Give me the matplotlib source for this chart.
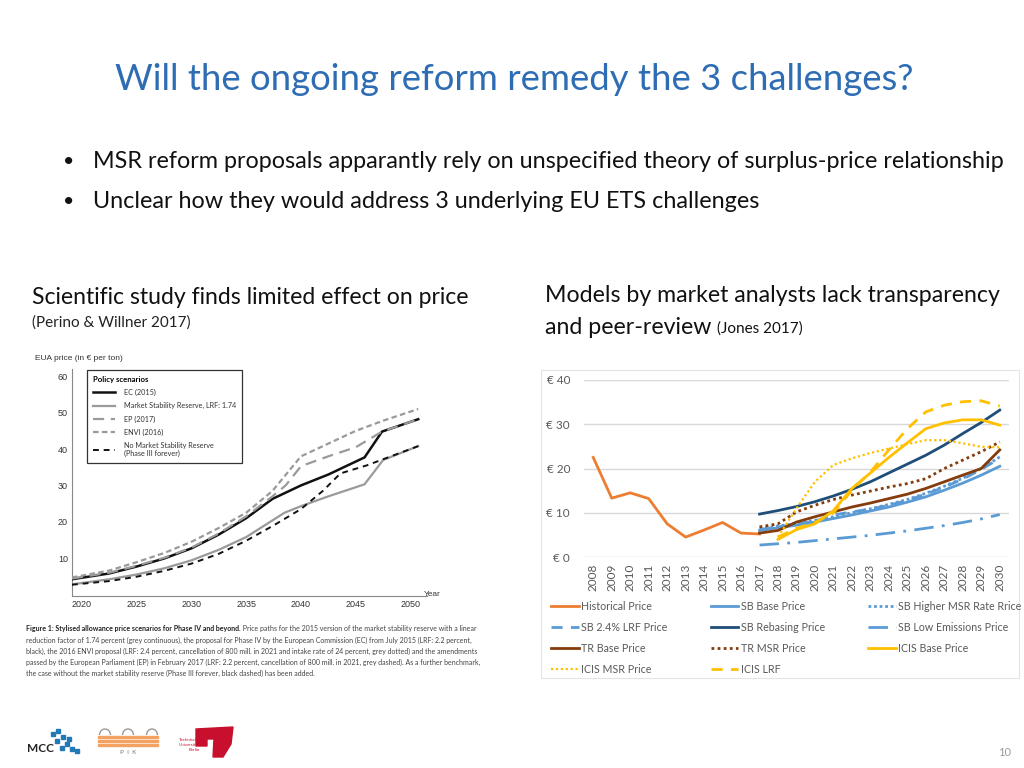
import numpy as np
import matplotlib.pyplot as plt
from matplotlib.patches import Rectangle, Polygon, Arc

plt.rcParams['font.family'] = ['Lato', 'DejaVu Sans']

W, H = 1024, 768

# ---- left chart (Perino & Willner 2017), EUA price in EUR per ton ----
ec_years = [2019.1, 2022.5, 2025, 2027.5, 2030, 2032.5, 2035, 2037.4, 2040, 2042.5, 2045.8, 2047.4, 2050.7]
ec_price = [4.2, 5.8, 7.7, 9.9, 12.7, 16.5, 21.0, 26.3, 30.0, 33.0, 37.7, 44.8, 48.2]

lrf_years = [2019.1, 2022.5, 2025, 2027.5, 2030, 2032.5, 2035, 2038.5, 2040, 2042.5, 2045.8, 2047.5, 2050.7]
lrf_price = [2.8, 4.2, 5.5, 7.2, 9.4, 12.3, 15.8, 22.5, 24.3, 27.0, 30.3, 37.0, 40.8]

ep_years = [2019.1, 2022.5, 2025, 2027.5, 2030, 2032.5, 2035, 2037.4, 2038.6, 2040, 2042.5, 2045, 2047.4, 2050.7]
ep_price = [4.4, 6.0, 7.9, 10.1, 12.9, 16.8, 21.5, 27.0, 30.0, 35.3, 38.0, 40.5, 44.8, 48.2]

envi_years = [2019.1, 2022.5, 2025, 2027.5, 2030, 2032.5, 2035, 2037.4, 2040, 2042.5, 2045, 2047.5, 2050.7]
envi_price = [4.7, 6.6, 8.9, 11.4, 14.5, 18.3, 22.5, 28.5, 38.0, 41.5, 45.0, 47.8, 51.0]

nomsr_years = [2019.1, 2022.5, 2025, 2027.5, 2030, 2032.5, 2035, 2037.5, 2040, 2042, 2043.6, 2046, 2047.5, 2050.7]
nomsr_price = [2.7, 3.7, 4.9, 6.5, 8.5, 11.2, 14.8, 19.0, 23.5, 28.5, 33.3, 35.5, 37.2, 40.8]

# ---- right chart (Jones 2017), price forecasts ----
hist_years = list(range(2008, 2018))
hist_price = [22.5, 13.3, 14.5, 13.2, 7.5, 4.5, 6.1, 7.8, 5.4, 5.2]

sb_years = list(range(2017, 2031))
sb_base = [6.0, 6.6, 7.2, 7.9, 8.7, 9.5, 10.4, 11.3, 12.4, 13.6, 15.1, 16.7, 18.5, 20.5]
sb_higher_msr = [6.5, 7.0, 7.6, 8.3, 9.1, 10.0, 10.9, 11.9, 13.0, 14.4, 16.0, 17.8, 20.0, 22.6]
sb_lrf24 = [6.2, 6.8, 7.4, 8.1, 9.5, 10.2, 10.8, 11.7, 12.8, 14.2, 15.8, 17.6, 19.8, 22.3]
sb_rebasing = [9.7, 10.5, 11.4, 12.5, 13.8, 15.3, 17.0, 19.0, 21.0, 23.0, 25.3, 27.9, 30.4, 33.2]
sb_low_em = [2.7, 3.0, 3.3, 3.7, 4.1, 4.5, 4.9, 5.4, 5.9, 6.5, 7.1, 7.8, 8.6, 9.6]
tr_base = [5.4, 6.0, 7.9, 9.1, 10.2, 11.3, 12.2, 13.2, 14.2, 15.5, 17.0, 18.5, 20.0, 24.2]
tr_msr = [6.8, 7.5, 10.2, 11.7, 13.0, 14.0, 14.9, 15.8, 16.6, 17.7, 20.0, 21.9, 23.8, 26.0]

icis_years = list(range(2018, 2031))
icis_base = [4.0, 6.2, 7.5, 10.5, 15.5, 19.0, 22.5, 25.8, 29.0, 30.3, 31.0, 31.0, 29.8]
icis_msr = [4.5, 11.0, 17.0, 20.8, 22.3, 23.5, 24.5, 25.5, 26.4, 26.4, 25.7, 24.9, 24.8]
icis_lrf = [4.5, 6.5, 7.8, 10.0, 15.1, 19.2, 24.2, 29.0, 32.8, 34.3, 35.1, 35.3, 34.1]


fig = plt.figure(figsize=(10.24, 7.68), dpi=100)
fig.patch.set_facecolor('white')

# overlay in pixel coordinates for slide text and decorations
ov = fig.add_axes([0, 0, 1, 1], zorder=0)
ov.set_xlim(0, W)
ov.set_ylim(H, 0)
ov.axis('off')


def px_axes(l, t, r, b):
    a = fig.add_axes([l / W, 1 - b / H, (r - l) / W, (b - t) / H], zorder=2)
    a.set_facecolor('none')
    return a


blue_title = '#2E6DB4'
ov.text(514, 80, 'Will the ongoing reform remedy the 3 challenges?', fontsize=26.3,
        color=blue_title, ha='center', va='center')

ov.text(63, 161, '•', fontsize=14, va='center', ha='left', color='#111')
ov.text(93, 161, 'MSR reform proposals apparantly rely on unspecified theory of surplus-price relationship',
        fontsize=16.8, va='center', ha='left', color='#111')
ov.text(63, 201, '•', fontsize=14, va='center', ha='left', color='#111')
ov.text(93, 201, 'Unclear how they would address 3 underlying EU ETS challenges',
        fontsize=16.8, va='center', ha='left', color='#111')

ov.text(32, 298, 'Scientific study finds limited effect on price', fontsize=16.6,
        va='center', ha='left', color='#111')
ov.text(32, 323, '(Perino & Willner 2017)', fontsize=11, va='center', ha='left', color='#222')

ov.text(545, 296, 'Models by market analysts lack transparency', fontsize=16.7,
        va='center', ha='left', color='#111')
t = ov.text(545, 327, 'and peer-review ', fontsize=16.7, va='center', ha='left', color='#111')
fig.canvas.draw()
renderer = fig.canvas.get_renderer()
bb = t.get_window_extent(renderer)
ov.text(545 + bb.width, 329, '(Jones 2017)', fontsize=11, va='center', ha='left', color='#111')

ov.text(1005, 752, '10', fontsize=8, color='#9a9a9a', ha='center', va='center')

# ---- left chart ----
ax1 = px_axes(72, 369, 427, 596)
ax1.plot(ec_years, ec_price, color='#111111', lw=1.8, label='EC (2015)', zorder=3)
ax1.plot(lrf_years, lrf_price, color='#9a9a9a', lw=1.6, label='Market Stability Reserve, LRF: 1.74', zorder=2)
ax1.plot(ep_years, ep_price, color='#9a9a9a', lw=1.6, dashes=(5, 3), label='EP (2017)', zorder=4)
ax1.plot(envi_years, envi_price, color='#9a9a9a', lw=1.6, dashes=(2.5, 1.5), label='ENVI (2016)', zorder=4)
ax1.plot(nomsr_years, nomsr_price, color='#111111', lw=1.4, dashes=(3, 2.5),
         label='No Market Stability Reserve\n(Phase III forever)', zorder=3)
ax1.set_xlim(2019.1, 2051.5)
ax1.set_ylim(-0.4, 62)
ax1.set_xticks([2020, 2025, 2030, 2035, 2040, 2045, 2050])
ax1.set_yticks([10, 20, 30, 40, 50, 60])
ax1.tick_params(length=0, labelsize=6.5, labelcolor='#333', pad=3)
for lbl in ax1.get_xticklabels() + ax1.get_yticklabels():
    lbl.set_family('Liberation Sans')
for s in ['top', 'right']:
    ax1.spines[s].set_visible(False)
for s in ['left', 'bottom']:
    ax1.spines[s].set_color('#888')
    ax1.spines[s].set_linewidth(0.8)
leg1 = ax1.legend(loc='upper left', bbox_to_anchor=(87, 370), bbox_transform=ov.transData,
                  title='Policy scenarios', alignment='left', fontsize=5.2,
                  title_fontproperties={'weight': 'bold', 'size': 5.6},
                  frameon=True, fancybox=False, edgecolor='#333', framealpha=1,
                  handlelength=3.1, labelspacing=0.85, borderpad=0.8, handletextpad=1.2,
                  borderaxespad=0)
leg1.get_frame().set_linewidth(0.9)
for txt in leg1.get_texts():
    txt.set_color('#333')
ov.text(35, 358, 'EUA price (in € per ton)', fontsize=6, family='Liberation Sans',
        color='#333', va='center')
ov.text(424, 594, 'Year', fontsize=6, family='Liberation Sans', color='#333', va='center')

# caption under the left chart
cap_bold = 'Figure 1: Stylised allowance price scenarios for Phase IV and beyond.'
cap_rest = [' Price paths for the 2015 version of the market stability reserve with a linear',
            'reduction factor of 1.74 percent (grey continuous), the proposal for Phase IV by the European Commission (EC) from July 2015 (LRF: 2.2 percent,',
            'black), the 2016 ENVI proposal (LRF: 2.4 percent, cancellation of 800 mill. in 2021 and intake rate of 24 percent, grey dotted) and the amendments',
            'passed by the European Parliament (EP) in February 2017 (LRF: 2.2 percent, cancellation of 800 mill. in 2021, grey dashed). As a further benchmark,',
            'the case without the market stability reserve (Phase III forever, black dashed) has been added.']
cap_y = [629, 640, 651, 662, 673]
tb = ov.text(26, cap_y[0], cap_bold, fontsize=5.0, fontweight='bold', color='#222', va='center')
bb = tb.get_window_extent(renderer)
ov.text(26 + bb.width, cap_y[0], cap_rest[0], fontsize=5.0, color='#444', va='center')
for s, y in zip(cap_rest[1:], cap_y[1:]):
    ov.text(26, y, s, fontsize=5.05, color='#444', va='center')

# ---- right chart ----
ov.add_patch(Rectangle((541, 370), 478, 308, fill=False, edgecolor='#e4e4e4', lw=0.8))
ax2 = px_axes(584, 380, 1009, 557)
lb = '#5B9BD5'
brown = '#843C0C'
gold = '#FFC000'
h_hist, = ax2.plot(hist_years, hist_price, color='#ED7D31', lw=2.0, label='Historical Price')
h_sbb, = ax2.plot(sb_years, sb_base, color=lb, lw=2.0, label='SB Base Price')
h_sbh, = ax2.plot(sb_years, sb_higher_msr, color=lb, lw=2.0, ls=(0, (1, 1)), label='SB Higher MSR Rate Rrice')
h_sbl, = ax2.plot(sb_years, sb_lrf24, color=lb, lw=2.0, dashes=(4, 3), label='SB 2.4% LRF Price')
h_sbr, = ax2.plot(sb_years, sb_rebasing, color='#1F4E79', lw=2.0, label='SB Rebasing Price')
h_sbe, = ax2.plot(sb_years, sb_low_em, color=lb, lw=2.0, dashes=(7, 3, 1, 3), label='SB Low Emissions Price')
h_trb, = ax2.plot(sb_years, tr_base, color=brown, lw=2.0, label='TR Base Price')
h_trm, = ax2.plot(sb_years, tr_msr, color=brown, lw=2.0, ls=(0, (1, 1.2)), label='TR MSR Price')
h_icb, = ax2.plot(icis_years, icis_base, color=gold, lw=2.0, label='ICIS Base Price')
h_icm, = ax2.plot(icis_years, icis_msr, color=gold, lw=1.6, ls=(0, (1, 1.2)), label='ICIS MSR Price')
h_icl, = ax2.plot(icis_years, icis_lrf, color=gold, lw=2.0, dashes=(4, 3), label='ICIS LRF')
ax2.set_xlim(2007.5, 2030.5)
ax2.set_ylim(0, 40)
ax2.set_yticks([0, 10, 20, 30, 40])
ax2.set_yticklabels(['€ 0', '€ 10', '€ 20', '€ 30', '€ 40'])
ax2.set_xticks(range(2008, 2031))
ax2.set_xticklabels([str(y) for y in range(2008, 2031)], rotation=90)
ax2.tick_params(length=0, labelsize=8.5, labelcolor='#595959', pad=5)
ax2.tick_params(axis='y', pad=10)
ax2.grid(axis='y', color='#D9D9D9', lw=1.0)
ax2.set_axisbelow(True)
for s in ax2.spines.values():
    s.set_visible(False)

order = [h_hist, h_sbl, h_trb, h_icm, h_sbb, h_sbr, h_trm, h_icl, h_sbh, h_sbe, h_icb]
leg2 = ax2.legend(handles=order, labels=[h.get_label() for h in order], ncol=3,
                  loc='upper left', bbox_to_anchor=(549, 599), bbox_transform=ov.transData,
                  frameon=False, fontsize=7.7, handlelength=2.6, handletextpad=0.2,
                  columnspacing=4.05, labelspacing=0.92, borderpad=0.2, borderaxespad=0)
for txt in leg2.get_texts():
    txt.set_color('#595959')

# ---- logos (rough) ----
ov.text(27, 748, 'MCC', fontsize=8.5, fontweight='bold', color='#222', va='center')
for (cx, cy) in [(53, 734), (58, 731), (63, 737), (57, 741), (67, 744), (62, 748), (72, 749), (77, 751), (69, 739)]:
    ov.add_patch(Rectangle((cx - 2.2, cy - 2.2), 4.4, 4.4, angle=0, color='#2379B5'))
for cx in [105, 128, 152]:
    ov.add_patch(Arc((cx, 735), 11, 12, theta1=180, theta2=360, color='#9a9a9a', lw=1.0))
for yy in [736, 740, 744]:
    ov.add_patch(Rectangle((98, yy), 60, 1.6, color='#F4A261'))
ov.text(128, 753, 'P  I  K', fontsize=4.5, color='#777', ha='center', va='center')
ov.add_patch(Polygon([(196, 729), (233, 727), (231, 744), (223, 757), (213, 757), (214, 739),
                      (207, 739), (207, 746), (196, 746)], closed=True, color='#C8102E'))
ov.text(200, 740, 'Technische', fontsize=3.2, color='#C8102E', ha='right', va='center')
ov.text(200, 745, 'Universität', fontsize=3.2, color='#C8102E', ha='right', va='center')
ov.text(200, 750, 'Berlin', fontsize=3.2, color='#C8102E', ha='right', va='center')

fig.savefig('out.png', dpi=100, facecolor='white')
